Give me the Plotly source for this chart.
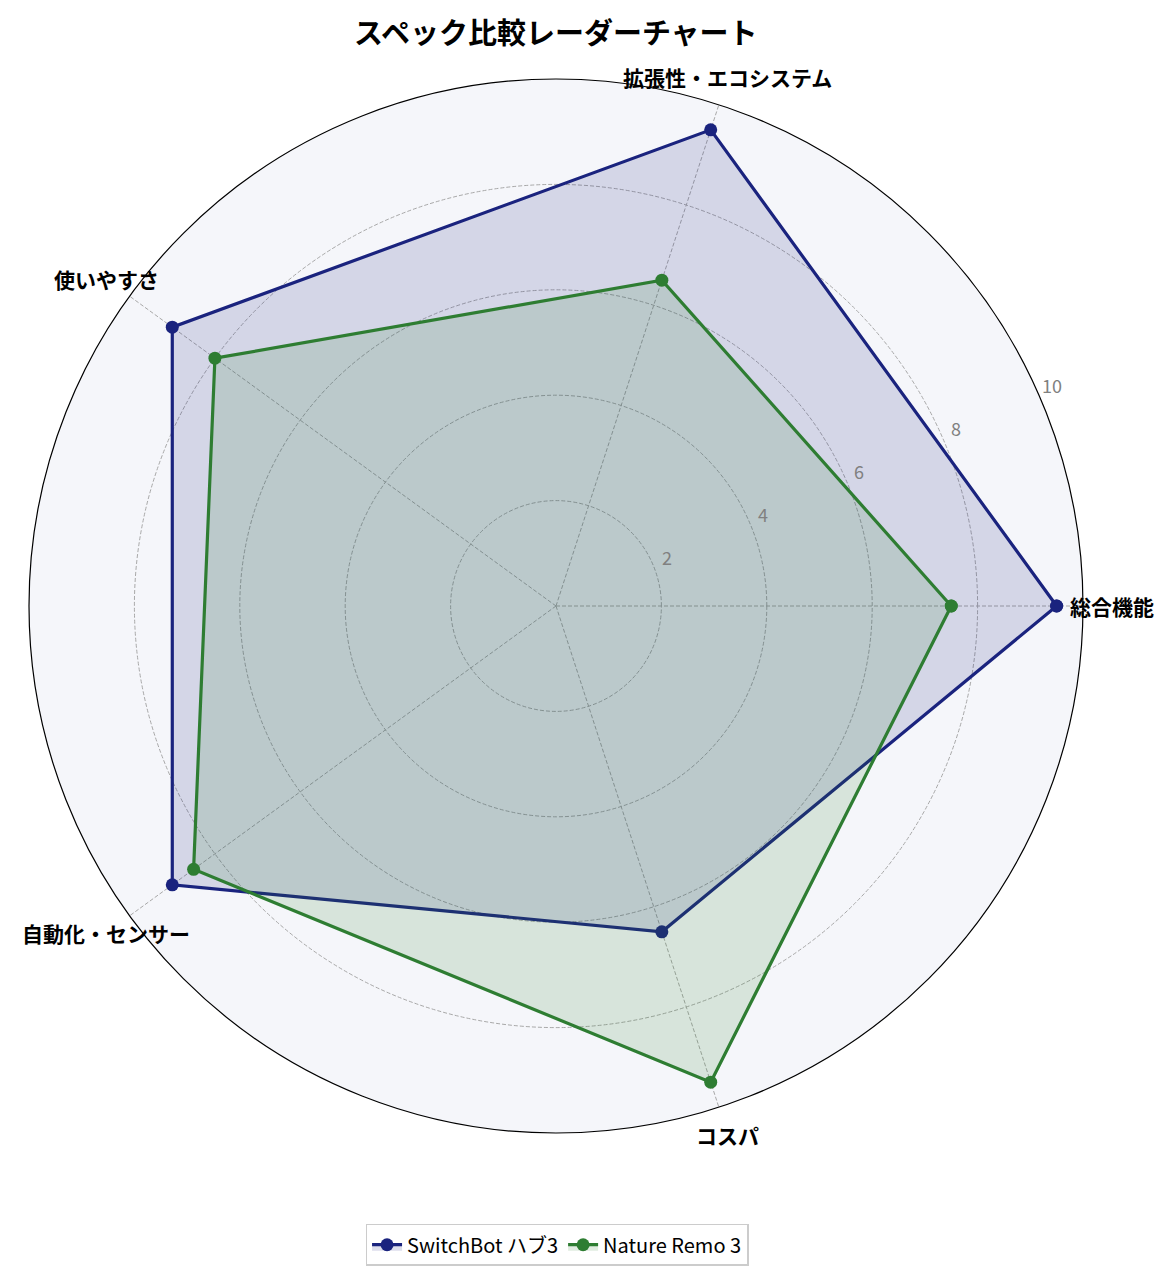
import math
import plotly.graph_objects as go

CATEGORIES = ['総合機能', '拡張性・エコシステム', '使いやすさ', '自動化・センサー', 'コスパ']
SWITCHBOT = [9.5, 9.5, 9.0, 9.0, 6.5]
NATURE_REMO = [7.5, 6.5, 8.0, 8.5, 9.5]
SERIES_NAMES = ['SwitchBot ハブ3', 'Nature Remo 3']
RADIAL_TICKS = [2, 4, 6, 8, 10]

FONT = 'Noto Sans CJK JP'
COLORS = ['#1a237e', '#2e7d32']
FILLS = ['rgba(26,35,126,0.15)', 'rgba(46,125,50,0.15)']
R_MAX = 10
LABEL_R = 10.55     # category labels centred just outside the ring
TICK_ANGLE = 24     # radial tick labels, like matplotlib's 22.5 default


def to_paper(r, deg):
    # polar fills the square plot area, centre at (0.5, 0.5)
    a = math.radians(deg)
    return 0.5 + 0.5 * r / R_MAX * math.cos(a), 0.5 + 0.5 * r / R_MAX * math.sin(a)


fig = go.Figure()
for name, vals, col, fill in zip(SERIES_NAMES, [SWITCHBOT, NATURE_REMO], COLORS, FILLS):
    fig.add_trace(go.Scatterpolar(
        r=vals + vals[:1],
        theta=CATEGORIES + CATEGORIES[:1],
        name=name,
        mode='lines+markers',
        line=dict(color=col, width=3.2),
        marker=dict(color=col, size=13),
        fill='toself',
        fillcolor=fill,
    ))

annotations = []
for i, cat in enumerate(CATEGORIES):
    x, y = to_paper(LABEL_R, 360 * i / len(CATEGORIES))
    annotations.append(dict(x=x, y=y, xref='paper', yref='paper', text=f'<b>{cat}</b>',
                            showarrow=False, xanchor='center', yanchor='middle',
                            font=dict(size=21, family=FONT, color='black')))
for t in RADIAL_TICKS:
    x, y = to_paper(t + 0.3, TICK_ANGLE)
    annotations.append(dict(x=x, y=y, xref='paper', yref='paper', text=str(t),
                            showarrow=False, xanchor='center', yanchor='middle',
                            font=dict(size=18, family=FONT, color='#808080')))

fig.update_layout(
    width=1173, height=1276,
    margin=dict(l=21, r=98, t=71, b=151),
    paper_bgcolor='white',
    font=dict(family=FONT, color='black'),
    title=dict(text='<b>スペック比較レーダーチャート</b>', x=0.467, xanchor='center',
               y=0.980, yanchor='middle', font=dict(size=29, family=FONT)),
    polar=dict(
        bgcolor='#f5f6fa',
        radialaxis=dict(range=[0, R_MAX], tickvals=RADIAL_TICKS, angle=22.5,
                        showticklabels=False, showline=False, ticks='',
                        gridcolor='#a8a8a8', griddash='4px,2px', gridwidth=0.8),
        angularaxis=dict(direction='counterclockwise', rotation=0, showline=True,
                         linecolor='black', linewidth=1.2, gridcolor='#a8a8a8',
                         griddash='4px,2px', gridwidth=0.8, ticks='',
                         showticklabels=False),
    ),
    annotations=annotations,
    legend=dict(orientation='h', x=0.501, xanchor='center', y=-0.106, yanchor='middle',
                bordercolor='#cccccc', borderwidth=1.5, bgcolor='white',
                font=dict(size=20, family=FONT)),
)

fig.write_html('out.html')
